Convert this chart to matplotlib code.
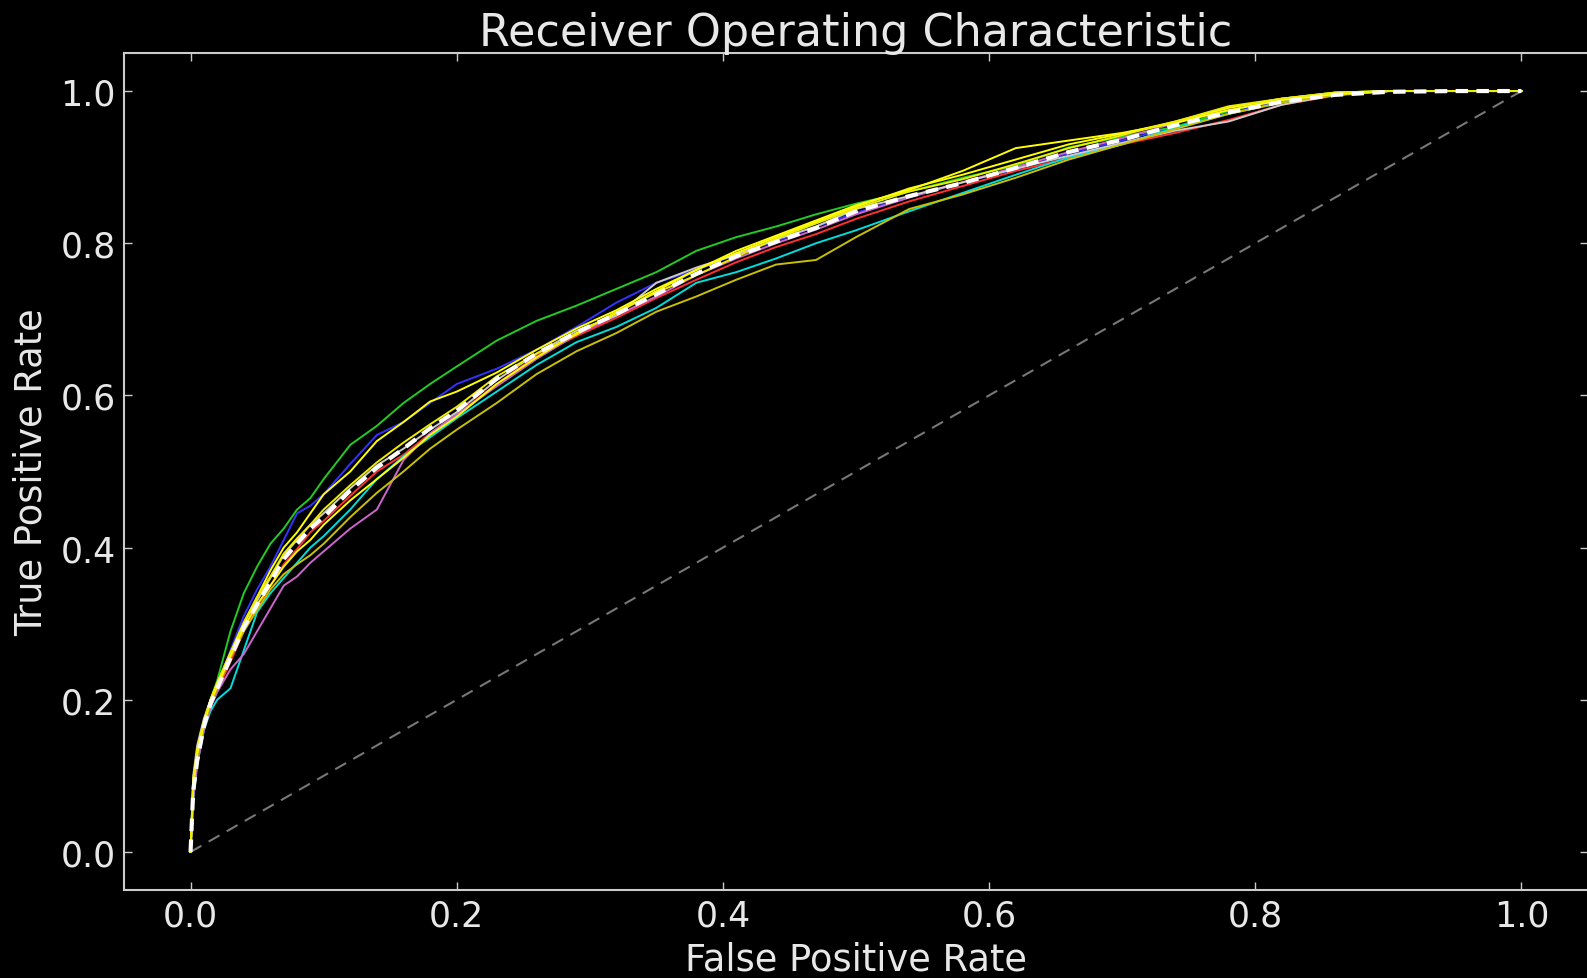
import matplotlib
matplotlib.use("Agg")
import matplotlib.pyplot as plt
import numpy as np

# false positive rate grid shared by every fold
fpr = [0.0, 0.002, 0.005, 0.01, 0.015, 0.02, 0.03, 0.04, 0.05, 0.06,
       0.07, 0.08, 0.09, 0.10, 0.12, 0.14, 0.16, 0.18, 0.20, 0.23,
       0.26, 0.29, 0.32, 0.35, 0.38, 0.41, 0.44, 0.47, 0.50, 0.54,
       0.58, 0.62, 0.66, 0.70, 0.74, 0.78, 0.82, 0.86, 0.90, 0.95, 1.0]

# true positive rate of each cross-validation fold
tpr_blue = [0.0, 0.08, 0.12, 0.165, 0.195, 0.22, 0.265, 0.31, 0.345, 0.375,
            0.41, 0.445, 0.455, 0.47, 0.51, 0.548, 0.565, 0.59, 0.615, 0.635,
            0.66, 0.69, 0.722, 0.748, 0.765, 0.785, 0.803, 0.822, 0.84, 0.861,
            0.88, 0.897, 0.918, 0.935, 0.953, 0.972, 0.987, 0.996, 1.0, 1.0, 1.0]
tpr_green = [0.0, 0.07, 0.12, 0.17, 0.2, 0.225, 0.29, 0.34, 0.375, 0.405,
             0.425, 0.45, 0.465, 0.49, 0.535, 0.56, 0.59, 0.615, 0.638, 0.672,
             0.698, 0.718, 0.74, 0.762, 0.79, 0.808, 0.822, 0.838, 0.852, 0.868,
             0.886, 0.902, 0.926, 0.94, 0.953, 0.974, 0.99, 0.998, 1.0, 1.0, 1.0]
tpr_red = [0.0, 0.075, 0.118, 0.162, 0.19, 0.212, 0.25, 0.29, 0.322, 0.35,
           0.378, 0.398, 0.42, 0.435, 0.468, 0.5, 0.522, 0.55, 0.575, 0.615,
           0.652, 0.678, 0.702, 0.728, 0.752, 0.775, 0.795, 0.812, 0.832, 0.855,
           0.875, 0.895, 0.912, 0.93, 0.945, 0.962, 0.982, 0.994, 1.0, 1.0, 1.0]
tpr_cyan = [0.0, 0.07, 0.115, 0.16, 0.185, 0.2, 0.215, 0.265, 0.315, 0.34,
            0.36, 0.38, 0.4, 0.415, 0.45, 0.49, 0.52, 0.545, 0.57, 0.605,
            0.64, 0.67, 0.69, 0.715, 0.748, 0.762, 0.78, 0.8, 0.817, 0.842,
            0.866, 0.89, 0.913, 0.93, 0.952, 0.97, 0.985, 0.995, 1.0, 1.0, 1.0]
tpr_violet = [0.0, 0.07, 0.115, 0.16, 0.19, 0.21, 0.24, 0.26, 0.29, 0.32,
              0.35, 0.362, 0.38, 0.395, 0.425, 0.45, 0.515, 0.55, 0.575, 0.612,
              0.648, 0.68, 0.705, 0.73, 0.758, 0.78, 0.8, 0.818, 0.838, 0.86,
              0.88, 0.9, 0.92, 0.938, 0.958, 0.978, 0.99, 0.997, 1.0, 1.0, 1.0]
tpr_silver = [0.0, 0.1, 0.14, 0.175, 0.2, 0.22, 0.26, 0.3, 0.33, 0.36,
              0.39, 0.41, 0.43, 0.445, 0.478, 0.508, 0.53, 0.555, 0.578, 0.62,
              0.655, 0.685, 0.705, 0.748, 0.768, 0.785, 0.805, 0.822, 0.845, 0.862,
              0.88, 0.898, 0.915, 0.932, 0.948, 0.96, 0.982, 0.995, 1.0, 1.0, 1.0]
tpr_gold = [0.0, 0.085, 0.125, 0.165, 0.195, 0.215, 0.255, 0.29, 0.318, 0.345,
            0.365, 0.378, 0.39, 0.405, 0.44, 0.472, 0.5, 0.53, 0.555, 0.59,
            0.628, 0.658, 0.682, 0.71, 0.73, 0.752, 0.772, 0.778, 0.808, 0.845,
            0.864, 0.886, 0.91, 0.93, 0.95, 0.97, 0.985, 0.995, 1.0, 1.0, 1.0]
tpr_yellow_a = [0.0, 0.09, 0.13, 0.17, 0.2, 0.222, 0.262, 0.3, 0.335, 0.37,
                0.4, 0.42, 0.445, 0.47, 0.5, 0.54, 0.565, 0.592, 0.605, 0.63,
                0.66, 0.688, 0.712, 0.74, 0.765, 0.79, 0.81, 0.83, 0.85, 0.87,
                0.895, 0.925, 0.935, 0.945, 0.958, 0.975, 0.988, 0.996, 1.0, 1.0, 1.0]
tpr_yellow_b = [0.0, 0.09, 0.13, 0.17, 0.198, 0.218, 0.258, 0.295, 0.325, 0.35,
                0.375, 0.395, 0.41, 0.43, 0.462, 0.49, 0.518, 0.548, 0.572, 0.615,
                0.65, 0.682, 0.708, 0.737, 0.765, 0.787, 0.808, 0.828, 0.848, 0.872,
                0.89, 0.91, 0.93, 0.944, 0.96, 0.978, 0.99, 0.998, 1.0, 1.0, 1.0]
tpr_yellow_c = [0.0, 0.095, 0.135, 0.172, 0.2, 0.222, 0.262, 0.302, 0.335, 0.362,
                0.392, 0.412, 0.43, 0.45, 0.482, 0.512, 0.538, 0.562, 0.585, 0.625,
                0.655, 0.68, 0.71, 0.735, 0.758, 0.782, 0.806, 0.826, 0.846, 0.868,
                0.884, 0.904, 0.925, 0.942, 0.96, 0.98, 0.99, 0.998, 1.0, 1.0, 1.0]

# mean curve over the folds
tpr_mean = [0.0, 0.08, 0.12, 0.165, 0.195, 0.215, 0.255, 0.295, 0.325, 0.355,
            0.385, 0.405, 0.425, 0.44, 0.475, 0.505, 0.53, 0.557, 0.58, 0.622,
            0.655, 0.683, 0.707, 0.733, 0.76, 0.783, 0.802, 0.82, 0.842, 0.862,
            0.879, 0.899, 0.92, 0.936, 0.955, 0.972, 0.986, 0.995, 0.999, 1.0, 1.0]

folds = [
    (tpr_blue, "#3333ff"),
    (tpr_green, "#22cc22"),
    (tpr_red, "#ff3030"),
    (tpr_cyan, "#00dddd"),
    (tpr_violet, "#cc66cc"),
    (tpr_silver, "#cccccc"),
    (tpr_gold, "#c8c000"),
    (tpr_yellow_a, "#ffff00"),
    (tpr_yellow_b, "#ffff00"),
    (tpr_yellow_c, "#eeee00"),
]

plt.rcParams["lines.scale_dashes"] = False
txt = "#e8e8e8"

fig = plt.figure(figsize=(15.87, 9.79), dpi=100, facecolor="black")
ax = fig.add_axes([124 / 1587, 1 - 891 / 979, 1464 / 1587, 837 / 979])
ax.set_facecolor("black")

ax.plot([0, 1], [0, 1], linestyle="--", dashes=(9, 6), color="#777777", lw=1.5)
for tpr, col in folds:
    ax.plot(fpr, tpr, color=col, lw=1.4)
ax.plot(fpr, tpr_mean, color="white", linestyle="--", dashes=(9, 6), lw=3)

ax.set_xlim(-0.05, 1.05)
ax.set_ylim(-0.05, 1.05)
ax.set_xticks(np.arange(0, 1.01, 0.2))
ax.set_yticks(np.arange(0, 1.01, 0.2))
ax.tick_params(direction="in", length=6, width=1, color="#cccccc",
               labelcolor=txt, labelsize=25, pad=6,
               top=True, right=True)
for s in ax.spines.values():
    s.set_color("#cccccc")
    s.set_linewidth(1.5)

ax.set_title("Receiver Operating Characteristic", color=txt, fontsize=32, pad=6)
ax.set_xlabel("False Positive Rate", color=txt, fontsize=26.5, labelpad=6)
ax.set_ylabel("True Positive Rate", color=txt, fontsize=26.5, labelpad=8)

fig.savefig("out.png", dpi=100, facecolor="black")
